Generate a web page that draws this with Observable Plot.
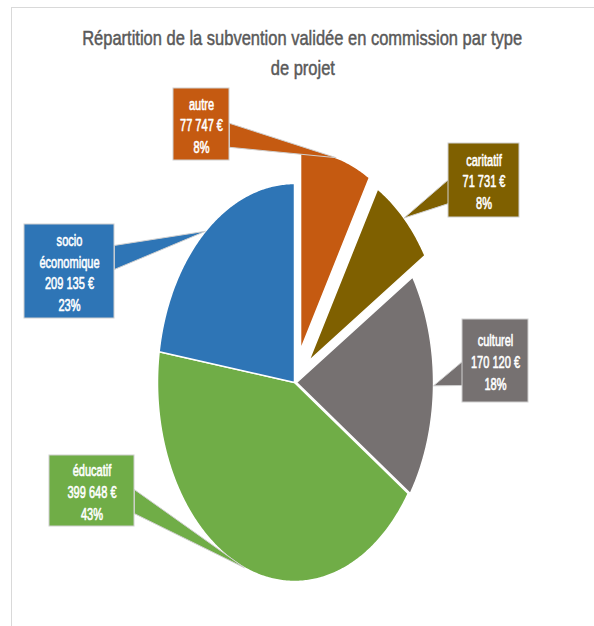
<!DOCTYPE html>
<html><head><meta charset="utf-8">
<script src="https://cdn.jsdelivr.net/npm/d3@7"></script>
<script src="https://cdn.jsdelivr.net/npm/@observablehq/plot@0.6"></script>
<style>
body{margin:0;background:#fff;}
#wrap{position:relative;width:594px;height:626px;overflow:hidden;}
#frame{position:absolute;left:11px;top:7px;width:640px;height:680px;border-left:1px solid #d9d9d9;border-top:1px solid #d9d9d9;}
#title{position:absolute;left:11px;top:23px;width:583px;text-align:center;font-family:"Liberation Sans",Arial,sans-serif;font-size:21px;line-height:30px;color:#595959;z-index:2;-webkit-text-stroke:0.5px #595959;}
#title span{display:inline-block;white-space:nowrap;transform-origin:50% 50%;}
#chart{position:absolute;left:0;top:0;}
</style></head>
<body><div id="wrap"><div id="frame"></div><div id="title"><span id="t1">Répartition de la subvention validée en commission par type</span><br><span id="t2">de projet</span></div><div id="chart"></div></div>
<script>
// ---- data ----
const categories = ["autre", "caritatif", "culturel", "éducatif", "socio économique"];
const values = [77747, 71731, 170120, 399648, 209135];
const colors = ["#C55A11", "#7F6000", "#767171", "#70AD47", "#2E75B6"];

// ---- layout (pixels) ----
const W = 594, H = 626;
const CX = 294, CY = 382, RX = 137, RY = 199;
const explode = [0.17, 0.15, 0.015, 0, 0];
const boxes = [ // label box centre and size, pixels
  {cx: 201, cy: 124, w: 56, h: 72},
  {cx: 483.5, cy: 180, w: 71, h: 74},
  {cx: 495, cy: 360.5, w: 66, h: 83},
  {cx: 91.5, cy: 490.5, w: 85, h: 71},
  {cx: 69, cy: 271, w: 90, h: 94}
];
const font = '"Liberation Sans",Arial,sans-serif';
const labelSqueeze = 0.69;
const titleWidth = 440;

// px <-> pie units
const ux = px => (px - CX) / RX;
const uy = py => (CY - py) / RY;
const px = u => CX + u * RX;
const py = u => CY - u * RY;

const total = d3.sum(values);
const fmt = d3.formatLocale({decimal: ",", thousands: " ", grouping: [3], currency: ["", " €"]}).format(",d");

let acc = 0;
const slices = categories.map((c, i) => {
  const a0 = acc / total * 2 * Math.PI;
  acc += values[i];
  const a1 = acc / total * 2 * Math.PI;
  const m = (a0 + a1) / 2;
  return {c, i, a0, a1, m, ox: explode[i] * Math.sin(m), oy: explode[i] * Math.cos(m)};
});

const slicePts = [];
for (const s of slices) {
  slicePts.push({c: s.c, x: s.ox, y: s.oy});
  const n = Math.ceil((s.a1 - s.a0) / 0.01);
  for (let k = 0; k <= n; k++) {
    const a = s.a0 + (s.a1 - s.a0) * k / n;
    slicePts.push({c: s.c, x: s.ox + Math.sin(a), y: s.oy + Math.cos(a)});
  }
}

const pointerPts = [];
const rects = [];
const labels = [];
slices.forEach((s, i) => {
  const b = boxes[i];
  const tipX = px(s.ox + Math.sin(s.m)), tipY = py(s.oy + Math.cos(s.m));
  const left = b.cx - b.w / 2, right = b.cx + b.w / 2, top = b.cy - b.h / 2, bottom = b.cy + b.h / 2;
  const edgeX = tipX > right ? right : left;
  const by = Math.max(top + b.h * 0.35, Math.min(bottom - b.h * 0.35, tipY));
  const hw = 12;
  pointerPts.push({c: s.c, x: ux(edgeX), y: uy(by - hw)});
  pointerPts.push({c: s.c, x: ux(tipX), y: uy(tipY)});
  pointerPts.push({c: s.c, x: ux(edgeX), y: uy(by + hw)});
  rects.push({c: s.c, x1: ux(left), x2: ux(right), y1: uy(bottom), y2: uy(top)});
  const name = s.c.includes(" ") ? s.c.replace(" ", "\n") : s.c;
  labels.push({c: s.c, x: ux(b.cx), y: uy(b.cy),
    t: name + "\n" + fmt(values[i]) + " €\n" + Math.round(values[i] / total * 100) + "%"});
});

const chart = Plot.plot({
  width: W, height: H,
  margin: 0,
  x: {axis: null, domain: [ux(0), ux(W)], range: [0, W]},
  y: {axis: null, domain: [uy(H), uy(0)], range: [H, 0]},
  color: {domain: categories, range: colors},
  style: {background: "transparent"},
  marks: [
    Plot.line(slicePts, {x: "x", y: "y", z: "c", fill: "c", stroke: "white", strokeWidth: 1.5, curve: "linear-closed"}),
    Plot.line(pointerPts, {x: "x", y: "y", z: "c", fill: "c", stroke: "#d0d0d0", strokeWidth: 1, curve: "linear-closed"}),
    Plot.rect(rects, {x1: "x1", x2: "x2", y1: "y1", y2: "y2", fill: "c", stroke: "#d0d0d0", strokeWidth: 1}),
    Plot.text(labels, {x: "x", y: "y", text: "t", fill: "white", stroke: "white", strokeWidth: 0.6, fontSize: 16, lineHeight: 1.36, fontFamily: font})
  ]
});
document.getElementById("chart").appendChild(chart);

// condense label text horizontally (Calibri-like narrow look)
chart.querySelectorAll('g[aria-label="text"] text').forEach(t => {
  const tr = t.getAttribute("transform");
  if (tr) {
    t.setAttribute("transform", tr + ` scale(${labelSqueeze},1)`);
  } else {
    const x = +t.getAttribute("x") || 0, y = +t.getAttribute("y") || 0;
    t.removeAttribute("x"); t.removeAttribute("y");
    t.setAttribute("transform", `translate(${x},${y}) scale(${labelSqueeze},1)`);
  }
});

// condense title to the reference width
const t1 = document.getElementById("t1"), t2 = document.getElementById("t2");
const k = titleWidth / t1.getBoundingClientRect().width;
t1.style.transform = `scaleX(${k})`;
t2.style.transform = `scaleX(${k})`;
</script>
</body></html>
